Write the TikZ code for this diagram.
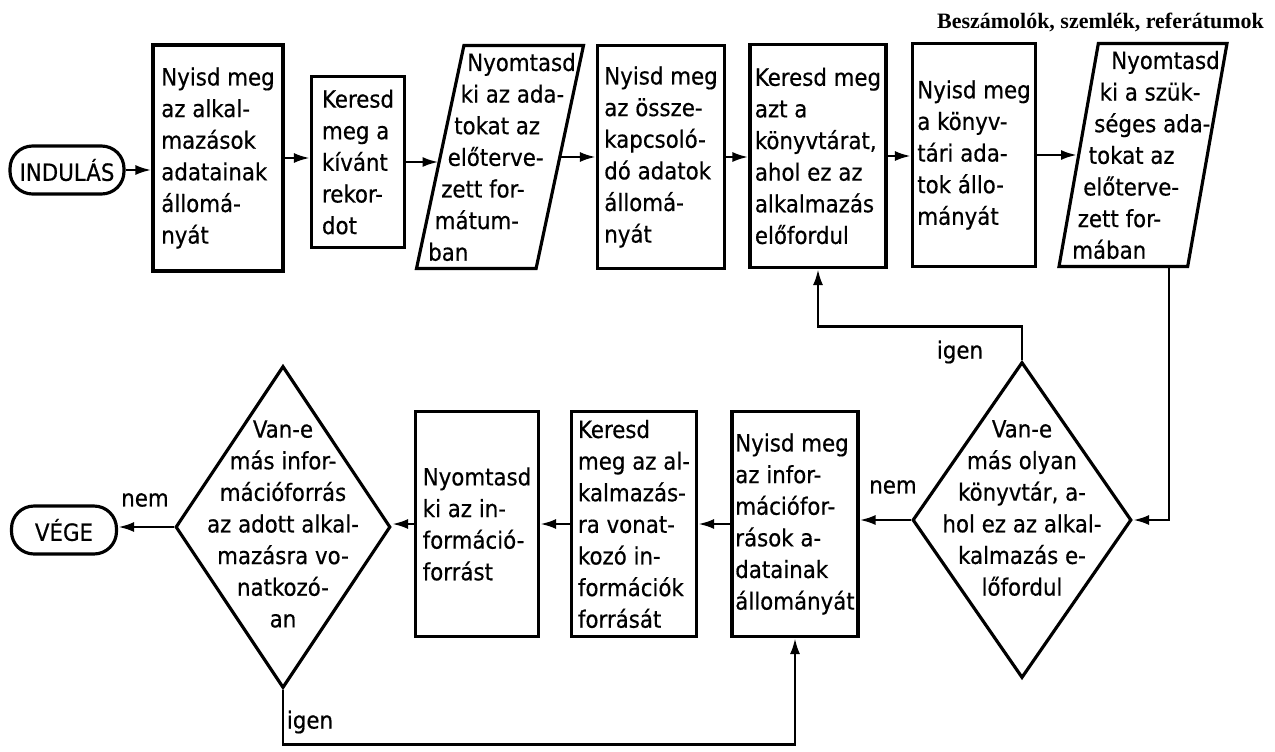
\documentclass[tikz,border=0pt]{standalone}
\usepackage{fontspec}
\setmainfont[FakeBold=0.5]{DejaVu Sans Condensed}
\newfontfamily\headfont{Liberation Serif}
\usetikzlibrary{shapes.geometric,arrows.meta}
\begin{document}
\begin{tikzpicture}[x=0.02cm,y=-0.02cm,
  box/.style={draw,line width=1.8pt,minimum height=4.46cm,inner sep=1pt,align=left},
  para/.style={draw,line width=1.8pt,trapezium,trapezium stretches body,inner xsep=0pt,inner ysep=2.23cm},
  term/.style={draw,line width=1.8pt,rounded corners=0.45cm,minimum height=0.96cm},
  dec/.style={draw,line width=1.8pt,diamond,inner sep=0pt},
  arr/.style={line width=1.5pt,-{Latex[length=3.2mm,width=2mm]}}]
\fontsize{13.5}{18}\selectfont
\useasboundingbox (0,0) rectangle (1275,751);
\node[anchor=east,font=\headfont\bfseries\fontsize{12.5}{14}\selectfont] (cim) at (1272,22) {Beszámolók, szemlék, referátumok};
\node[term,minimum width=2.28cm] (indulas) at (67,170) {INDULÁS};
\node[box,minimum width=2.6cm,minimum height=4.52cm] (box1) at (218,158) {Nyisd meg\\az alkal-\\mazások\\adatainak\\állomá-\\nyát};
\node[box,minimum width=1.86cm,minimum height=3.42cm] (box2) at (358,162) {Keresd\\meg a\\kívánt\\rekor-\\dot};
\node[para,trapezium left angle=78,trapezium right angle=102,minimum width=3.34cm] (para3) at (500,157) {};
\node[align=left] (para3txt) at (502,157) {\hspace*{0.78cm}Nyomtasd\\\hspace*{0.65cm}ki az ada-\\\hspace*{0.52cm}tokat az\\\hspace*{0.39cm}előterve-\\\hspace*{0.26cm}zett for-\\\hspace*{0.13cm}mátum-\\ban};
\node[box,minimum width=2.54cm] (box4) at (661,157) {Nyisd meg\\az össze-\\kapcsoló-\\dó adatok\\állomá-\\nyát};
\node[box,minimum width=2.72cm] (box5) at (818,156) {Keresd meg\\azt a\\könyvtárat,\\ahol ez az\\alkalmazás\\előfordul};
\node[box,minimum width=2.46cm] (box6) at (974,155) {Nyisd meg\\a könyv-\\tári ada-\\tok állo-\\mányát};
\node[para,trapezium left angle=80,trapezium right angle=100,minimum width=3.36cm] (para7) at (1143,155) {};
\node[align=left] (para7txt) at (1146,155) {\hspace*{0.78cm}Nyomtasd\\\hspace*{0.55cm}ki a szük-\\\hspace*{0.44cm}séges ada-\\\hspace*{0.33cm}tokat az\\\hspace*{0.22cm}előterve-\\\hspace*{0.11cm}zett for-\\mában};
\node[dec,minimum width=4.38cm,minimum height=6.32cm] (dia1) at (1022,520) {};
\node[align=center] (dia1txt) at (1022,508) {Van-e\\más olyan\\könyvtár, a-\\hol ez az alkal-\\kalmazás e-\\lőfordul};
\node[box,minimum width=2.52cm,minimum height=4.5cm] (b1) at (795,524) {Nyisd meg\\az infor-\\mációfor-\\rások a-\\datainak\\állományát};
\node[box,minimum width=2.5cm,minimum height=4.5cm] (b2) at (634,524) {Keresd\\meg az al-\\kalmazás-\\ra vonat-\\kozó in-\\formációk\\forrását};
\node[box,minimum width=2.46cm,minimum height=4.5cm] (b3) at (477,524) {Nyomtasd\\ki az in-\\formáció-\\forrást};
\node[dec,minimum width=4.3cm,minimum height=6.44cm] (dia2) at (283,527) {};
\node[align=center] (dia2txt) at (283,524) {Van-e\\más infor-\\mációforrás\\az adott alkal-\\mazásra vo-\\natkozó-\\an};
\node[term,minimum width=2.1cm] (vege) at (64,530) {VÉGE};
\draw[arr] (indulas.east) -- (indulas.east -| box1.west);
\draw[arr] (box1.east) -- (box1.east -| box2.west);
\draw[arr] (box2.east) -- (box2.east -| para3.west);
\draw[arr] (para3.east) -- (para3.east -| box4.west);
\draw[arr] (box4.east) -- (box4.east -| box5.west);
\draw[arr] (box5.east) -- (box5.east -| box6.west);
\draw[arr] (box6.east) -- (box6.east -| para7.west);
\draw[arr] ([xshift=-0.4cm]para7.bottom right corner) |- (dia1.east);
\draw[arr] (dia1.north) -- ++(0,-34) -| (box5.south);
\draw[arr] (dia1.west) -- (dia1.west -| b1.east);
\draw[arr] (b1.west) -- (b1.west -| b2.east);
\draw[arr] (b2.west) -- (b2.west -| b3.east);
\draw[arr] (b3.west) -- (b3.west -| dia2.east);
\draw[arr] (dia2.west) -- (dia2.west -| vege.east);
\draw[arr] (dia2.south) -- ++(0,55) -| (b1.south);
\node (igen1) at (960,352) {igen};
\node (nem1) at (893,487) {nem};
\node (nem2) at (145,500) {nem};
\node (igen2) at (310,722) {igen};
\end{tikzpicture}
\end{document}
